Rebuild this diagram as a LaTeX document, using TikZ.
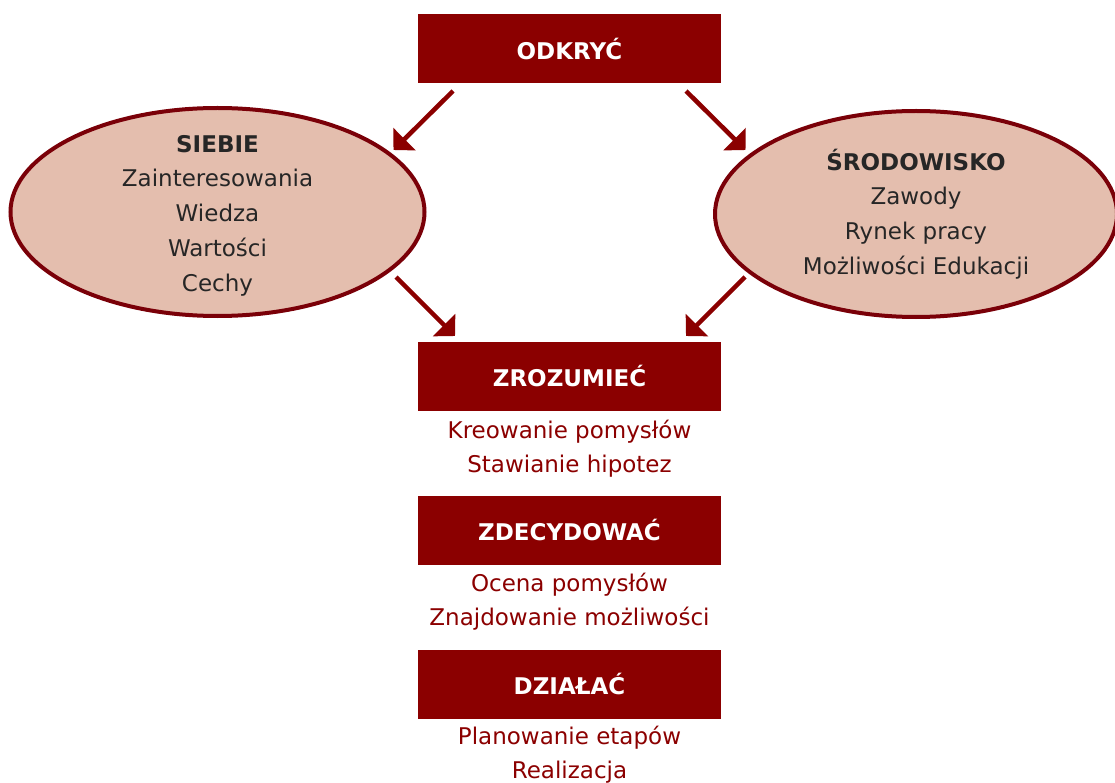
\documentclass[tikz,border=0pt]{standalone}
\usepackage{fontspec}
\setmainfont{DejaVu Sans}
\usetikzlibrary{shapes.geometric,arrows.meta}
\definecolor{boxred}{HTML}{8B0000}
\definecolor{ellfill}{HTML}{E4BEAE}
\definecolor{ellline}{HTML}{7A0008}
\definecolor{darktext}{HTML}{262626}
\tikzset{
  stagebox/.style={rectangle, fill=boxred, minimum width=303pt, minimum height=69pt, inner sep=0pt,
    text=white, font=\fontsize{23}{34}\selectfont\bfseries},
  subtext/.style={align=center, text=boxred, inner sep=0pt, font=\fontsize{23}{34}\selectfont},
  topic/.style={ellipse, draw=ellline, line width=4pt, fill=ellfill, inner sep=0pt},
  topictext/.style={align=center, inner sep=0pt, text=darktext, font=\fontsize{23}{34.7}\selectfont},
  bigarrow/.style={draw=boxred, line width=4.5pt, -{Triangle[length=15.5pt,width=31pt]}}
}
\begin{document}
\begin{tikzpicture}[x=1pt,y=-1pt]
\useasboundingbox (0,0) rectangle (1115,783);
\node[stagebox] (odk) at (569.5,49) {ODKRYĆ};
\node[topic, minimum width=414pt, minimum height=208pt] (sie) at (217.5,212) {};
\node[topictext] (siet) at (217.5,215.5)
  {\textbf{SIEBIE}\\Zainteresowania\\Wiedza\\Wartości\\Cechy};
\node[topic, minimum width=402pt, minimum height=206pt] (sro) at (916,214) {};
\node[topictext] (srot) at (916,214)
  {\textbf{ŚRODOWISKO}\\Zawody\\Rynek pracy\\Możliwości Edukacji};
\node[stagebox] (zro) at (569.5,376) {ZROZUMIEĆ};
\node[subtext] (zrot) at (569.5,449) {Kreowanie pomysłów\\Stawianie hipotez};
\node[stagebox] (zde) at (569.5,530) {ZDECYDOWAĆ};
\node[subtext] (zdet) at (569.5,602) {Ocena pomysłów\\Znajdowanie możliwości};
\node[stagebox] (dzi) at (569.5,684) {DZIAŁAĆ};
\node[subtext] (dzit) at (569.5,755) {Planowanie etapów\\Realizacja};
\coordinate (a1s) at (453,91);
\coordinate (a1e) at (393.5,150);
\coordinate (a2s) at (686,91);
\coordinate (a2e) at (745.5,150);
\coordinate (a3s) at (396,277);
\coordinate (a3e) at (455,336);
\coordinate (a4s) at (745,277);
\coordinate (a4e) at (686,336);
\draw[bigarrow] (a1s) -- (a1e);
\draw[bigarrow] (a2s) -- (a2e);
\draw[bigarrow] (a3s) -- (a3e);
\draw[bigarrow] (a4s) -- (a4e);
\end{tikzpicture}
\end{document}
